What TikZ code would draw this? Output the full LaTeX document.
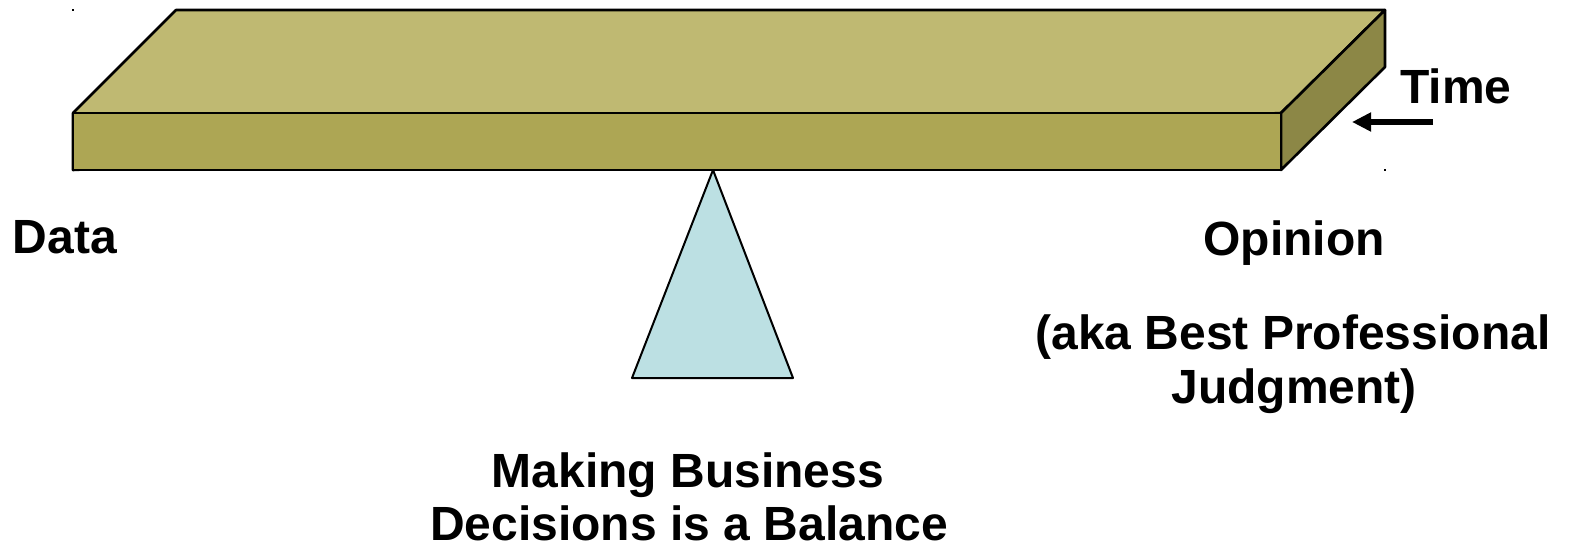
\documentclass[tikz,border=0pt]{standalone}
\usepackage{fontspec}
\setmainfont{Liberation Sans}
\usetikzlibrary{arrows.meta}
\definecolor{boardtop}{RGB}{191,185,114}
\definecolor{boardfront}{RGB}{173,166,84}
\definecolor{boardside}{RGB}{140,135,70}
\definecolor{pivot}{RGB}{188,224,227}
\tikzset{lbl/.style={anchor=base,inner sep=0pt,font=\fontsize{48}{55}\selectfont\bfseries}}
\begin{document}
\begin{tikzpicture}[x=1pt,y=-1pt,>={Triangle[length=19pt,width=18pt]},line join=round]
\useasboundingbox (0,0) rectangle (1572,546);
% board corners
\foreach \i/\p in {A/{73,113},B/{1281,113},C/{1281,170},D/{73,170},E/{176,10},F/{1385,10},G/{1385,67}}
\path(\p)coordinate(\i);
\draw[line width=2.6pt,fill=boardtop] (D)--(A)--(E)--(F)--(B)--cycle;
\draw[line width=2.6pt,fill=boardside] (B)--(F)--(G)--(C)--cycle;
\draw[line width=2.6pt,fill=boardfront] (A)--(B)--(C)--(D)--cycle;
% pivot
\path(713,170)coordinate(P) (632,378)coordinate(Q) (793,378)coordinate(R);
\draw[line width=2pt,fill=pivot] (P)--(Q)--(R)--cycle;
% stray marks
\foreach \p in {{73,10},{1385,170}}\fill(\p)+(-1,-1)rectangle+(1,1);
% time arrow
\path(1433,122)coordinate(T1) (1352,122)coordinate(T2);
\draw[->,line width=6pt] (T1)--(T2);
\node[lbl] (time) at (1456,103) {Time};
\node[lbl] (data) at (65,253) {Data};
\node[lbl] (opinion) at (1294,255) {Opinion};
\node[lbl] (aka) at (1293,349) {(aka Best Professional};
\node[lbl] (judg) at (1294,403) {Judgment)};
\node[lbl] (making) at (688,487) {Making Business};
\node[lbl] (decis) at (689,540) {Decisions is a Balance};
\end{tikzpicture}
\end{document}
